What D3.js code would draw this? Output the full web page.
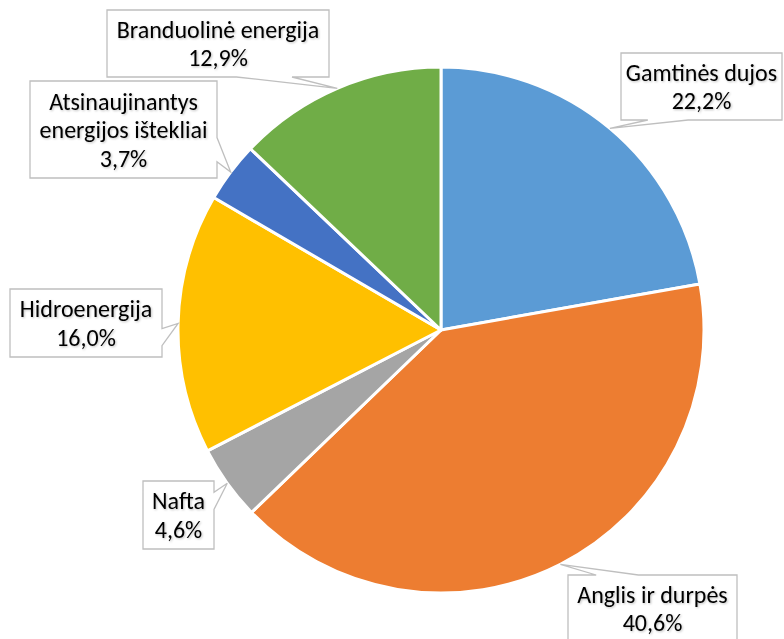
<!DOCTYPE html>
<html>
<head>
<meta charset="utf-8">
<script src="https://cdn.jsdelivr.net/npm/d3@7"></script>
<style>
  html, body { margin: 0; padding: 0; background: #fff; }
  svg { display: block; }
</style>
</head>
<body>
<svg id="chart" width="784" height="639"></svg>
<script>
// ---- data ----
const categories = ["Gamtinės dujos", "Anglis ir durpės", "Nafta", "Hidroenergija", "Atsinaujinantys\nenergijos ištekliai", "Branduolinė energija"];
const values = [22.2, 40.6, 4.6, 16.0, 3.7, 12.9];
const colors = ["#5B9BD5", "#ED7D31", "#A5A5A5", "#FFC000", "#4472C4", "#70AD47"];

// ---- layout (label box positions: x, y, w, h) ----
const labelBoxes = [
  [621, 53, 161, 67],
  [568, 575, 169, 67],
  [143, 481, 71, 68],
  [10, 289, 152, 68],
  [30, 81, 187, 97],
  [107, 10, 222, 67]
];

const cx = 441, cy = 330, R = 263;
const svg = d3.select("#chart");

const defs = svg.append("defs");
const f = defs.append("filter").attr("id", "tshadow").attr("x", "-10%").attr("y", "-10%").attr("width", "130%").attr("height", "140%");
f.append("feDropShadow").attr("dx", 1).attr("dy", 1).attr("stdDeviation", 0.8).attr("flood-color", "#000").attr("flood-opacity", 0.25);

const pie = d3.pie().sort(null).value(d => d.value);
const data = categories.map((c, i) => ({ name: c, value: values[i], color: colors[i], box: labelBoxes[i] }));
const arcs = pie(data);
const arc = d3.arc().innerRadius(0).outerRadius(R);

const g = svg.append("g").attr("transform", `translate(${cx},${cy})`);
g.selectAll("path.slice").data(arcs).join("path")
  .attr("class", "slice")
  .attr("d", arc)
  .attr("fill", d => d.data.color)
  .attr("stroke", "#fff")
  .attr("stroke-width", 3)
  .attr("stroke-linejoin", "round");

function calloutPath(box, tip) {
  const [x, y, w, h] = box;
  const mx = x + w / 2, my = y + h / 2;
  const rx = (tip[0] - mx) / w, ry = (tip[1] - my) / h;
  const pts = [];
  if (Math.abs(ry) >= Math.abs(rx)) {
    const fr = tip[0] < mx ? [2 / 12, 5 / 12] : [7 / 12, 10 / 12];
    const b1 = x + w * fr[0], b2 = x + w * fr[1];
    if (ry > 0) {
      pts.push([x, y], [x + w, y], [x + w, y + h], [b2, y + h], tip, [b1, y + h], [x, y + h]);
    } else {
      pts.push([x, y], [b1, y], tip, [b2, y], [x + w, y], [x + w, y + h], [x, y + h]);
    }
  } else {
    const fr = tip[1] < my ? [2 / 12, 5 / 12] : [7 / 12, 10 / 12];
    const b1 = y + h * fr[0], b2 = y + h * fr[1];
    if (rx > 0) {
      pts.push([x, y], [x + w, y], [x + w, b1], tip, [x + w, b2], [x + w, y + h], [x, y + h]);
    } else {
      pts.push([x, y], [x + w, y], [x + w, y + h], [x, y + h], [x, b2], tip, [x, b1]);
    }
  }
  return "M" + pts.map(p => p[0] + "," + p[1]).join("L") + "Z";
}

const fmt = v => v.toFixed(1).replace(".", ",") + "%";
const lineH = 28.5;

const labels = svg.append("g");
arcs.forEach(a => {
  const ang = (a.startAngle + a.endAngle) / 2;
  const tip = [cx + R * Math.sin(ang), cy - R * Math.cos(ang)];
  const box = a.data.box;
  labels.append("path")
    .attr("d", calloutPath(box, tip))
    .attr("fill", "#fff")
    .attr("stroke", "#BFBFBF")
    .attr("stroke-width", 1.3);
  const lines = a.data.name.split("\n").concat([fmt(a.data.value)]);
  const tx = box[0] + box[2] / 2;
  const ty0 = box[1] + box[3] / 2 - (lines.length - 1) * lineH / 2;
  const t = labels.append("text")
    .attr("text-anchor", "middle")
    .attr("font-family", "Carlito, Lato, 'Noto Sans', sans-serif")
    .attr("font-size", 24)
    .attr("fill", "#000")
    .attr("filter", "url(#tshadow)");
  lines.forEach((ln, i) => {
    t.append("tspan")
      .attr("x", tx)
      .attr("y", ty0 + i * lineH)
      .attr("dy", "0.36em")
      .text(ln);
  });
});
</script>
</body>
</html>
